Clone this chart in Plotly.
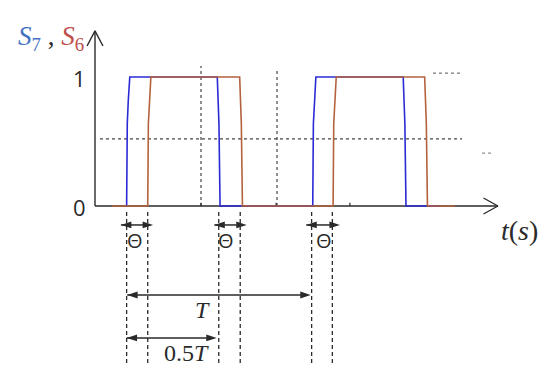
import plotly.graph_objects as go

# ---- data (time in arbitrary units, T = 10) ----
s7_rise = [1.71, 11.77]
s7_fall = [6.61, 16.66]
s7_start, s7_end = 1.71, 18.6
s6_rise = [2.85, 12.87]
s6_fall = [7.82, 17.82]
s6_start, s6_end = 0.92, 19.46

edge_lines = [1.71, 2.85, 6.69, 7.85, 11.71, 12.83]
theta_arrows = [(1.40, 3.14), (6.45, 8.20), (11.42, 13.24)]
theta_label_x = [2.18, 7.06, 12.38]
T_arrow = (1.74, 11.66)
halfT_arrow = (1.71, 6.58)
ref_level = 0.52
dotted_v = [(5.73, 1.085), (9.84, 1.07)]
axis_ticks = [5.73, 9.79, 13.78]
tick_levels = [0, 1]
tick_labels = ["0", "1"]

BLUE = "#2b2bd6"
RED = "#b4623e"
INK = "#2a2a2a"

rise_prof = [(0.0, 0.0), (0.035, 0.64), (0.09, 0.82), (0.17, 1.0)]
fall_prof = [(0.0, 1.0), (0.05, 0.82), (0.09, 0.64), (0.15, 0.0)]


def wave(start, rises, falls, end):
    xs, ys = [start], [0]
    for r, f in zip(rises, falls):
        for dx, lv in rise_prof:
            xs.append(r + dx); ys.append(lv)
        for dx, lv in fall_prof:
            xs.append(f + dx); ys.append(lv)
    xs.append(end); ys.append(0)
    return xs, ys


fig = go.Figure()


def seg(x, y, color="#444", width=1.2, dash=None):
    fig.add_trace(go.Scatter(x=x, y=y, mode="lines",
                             line=dict(color=color, width=width, dash=dash), hoverinfo="skip"))


# reference dotted lines
seg([0.27, 19.84], [ref_level, ref_level], dash="dot")
for xv, top in dotted_v:
    seg([xv, xv], [0, top], dash="dot")
seg([18.27, 19.84], [1.03, 1.03], color="#555", width=1.0, dash="dot")
seg([20.92, 21.46], [0.41, 0.41], color="#777", width=1.0, dash="dot")

# axes
seg([0, 21.78], [0, 0], color=INK, width=1.4)
seg([21.0, 21.78, 21.0], [0.062, 0, -0.062], color=INK, width=1.4)
seg([0, 0], [0, 1.357], color=INK, width=1.4)
seg([-0.43, 0, 0.43], [1.24, 1.357, 1.24], color=INK, width=1.4)
for tx in axis_ticks:
    seg([tx, tx], [0, 0.025], color=INK, width=1.2)

# waveforms
bx, by = wave(s7_start, s7_rise, s7_fall, s7_end)
seg(bx, by, color=BLUE, width=1.6)
rx, ry = wave(s6_start, s6_rise, s6_fall, s6_end)
seg(rx, ry, color=RED, width=1.6)

# dashed edge markers
for ex in edge_lines:
    seg([ex, ex], [-0.047, -1.217], color=INK, width=1.3, dash="4px,3px")


def darrow(x0, x1, yv):
    fig.add_trace(go.Scatter(x=[x0, x1], y=[yv, yv], mode="lines+markers",
                             line=dict(color=INK, width=1.5),
                             marker=dict(symbol="arrow", angleref="previous", size=11,
                                         color=INK, line=dict(width=0)),
                             hoverinfo="skip"))
    fig.add_trace(go.Scatter(x=[x1, x0], y=[yv, yv], mode="markers",
                             marker=dict(symbol="arrow", angleref="previous", size=11,
                                         color=INK, line=dict(width=0)),
                             hoverinfo="skip"))


for (a, b) in theta_arrows:
    darrow(a, b, -0.147)
darrow(T_arrow[0], T_arrow[1], -0.69)
darrow(halfT_arrow[0], halfT_arrow[1], -1.023)

ann = []
for tx in theta_label_x:
    ann.append(dict(x=tx, y=-0.265, xref="x", yref="y", text="Θ", showarrow=False,
                    font=dict(family="Open Sans", size=20, color=INK)))
ann.append(dict(x=5.8, y=-0.81, xref="x", yref="y", text="<i>T</i>", showarrow=False,
                font=dict(family="Liberation Serif", size=24, color=INK)))
ann.append(dict(x=4.92, y=-1.143, xref="x", yref="y", text="0.5<i>T</i>", showarrow=False,
                font=dict(family="Liberation Serif", size=24, color=INK)))

for lv, lb in zip(tick_levels, tick_labels):
    ann.append(dict(x=-0.85, y=lv - 0.01, xref="x", yref="y", text=lb, showarrow=False,
                    font=dict(family="Open Sans", size=22, color=INK)))

ann.append(dict(x=-2.4, y=1.30, xref="x", yref="y",
                text="<span style='color:#4472c4'><i>S</i><sub>7</sub></span> , "
                     "<span style='color:#c0504d'><i>S</i><sub>6</sub></span>",
                showarrow=False, font=dict(family="Liberation Serif", size=27, color=INK)))
ann.append(dict(x=22.97, y=-0.19, xref="x", yref="y", text="<i>t</i>(<i>s</i>)",
                showarrow=False, font=dict(family="Liberation Serif", size=28, color=INK)))

fig.update_layout(
    width=550, height=383, autosize=False,
    margin=dict(l=0, r=0, t=0, b=0),
    paper_bgcolor="white", plot_bgcolor="white",
    showlegend=False,
    xaxis=dict(range=[-5.135, 24.595], visible=False, fixedrange=True),
    yaxis=dict(range=[-1.3721, 1.5969], visible=False, fixedrange=True),
    annotations=ann,
)

fig.write_html("out.html", config={"displayModeBar": False},
               post_script="document.body.style.margin='0px';document.body.style.overflow='hidden';")
